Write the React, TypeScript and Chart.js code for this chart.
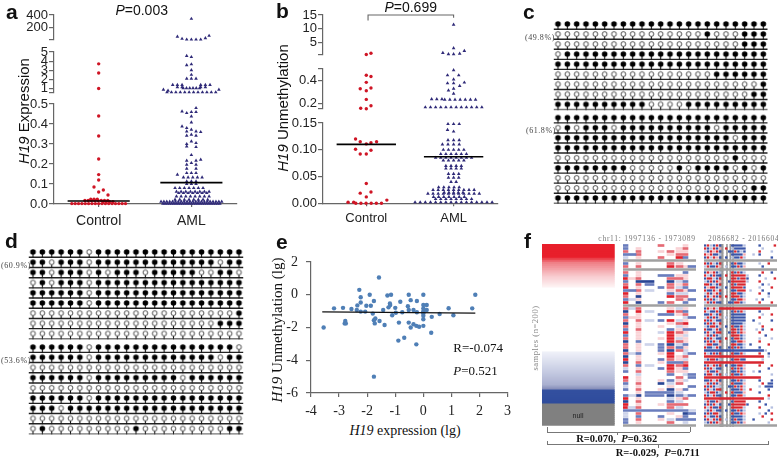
import React, { useEffect, useRef } from "react";
import { Chart, registerables } from "chart.js";
Chart.register(...registerables);

const SANS = "'Liberation Sans', Arial, sans-serif";
const SERIF = "'Liberation Serif', 'Times New Roman', serif";
const AXIS = "#666";
const RED = "#cf1525";
const NAVY = "#2f2a78";

// rows: [value, count, spread, shift] – swarm rows
type Row = [number, number, number?, number?];
const categories = ["Control", "AML"];

const aTopTicks = [11, 200, 400];
const aMidTicks = [0.5, 1, 2, 3, 4, 5];
const aLowTicks = [0, 0.1, 0.2, 0.3, 0.4, 0.5];
const aControlTop: Row[] = [];
const aControlMid: Row[] = [[3.7, 1], [2.7, 1], [1, 1]];
const aControlLow: Row[] = [[0.44, 1], [0.34, 1], [0.225, 1], [0.147, 1], [0.12, 1], [0.085, 1, 1, -1], [0.07, 1, 1, 1], [0.06, 1], [0.045, 1, 1, 2], [0.024, 3, 0.7, -1], [0.018, 8, 0.7, -0.5], [0.012, 4, 0.7, 2], [0.002, 17, 0.72]];
const aAmlTop: Row[] = [[340, 1], [58, 1, 1, -3], [26, 1, 1, -2], [73, 1, 1, 3.8], [35, 1, 1, 3], [13, 4, 1, 0.5]];
const aAmlMid: Row[] = [[4.57, 1, 1, -1], [4.45, 1], [3.65, 1], [3.55, 1, 1, -1], [3, 1], [2.5, 1], [2.07, 3], [1.39, 3, 1, -3], [1.39, 3, 1, 3], [1.15, 2, 1, -2.5], [1.15, 2, 1, 2.5], [1.03, 6, 0.7], [0.87, 1, 1, -6], [0.87, 1, 1, 5.9], [0.75, 1, 1, -5], [0.58, 12, 0.95]];
const aAmlLow: Row[] = [[0.48, 1, 1, 1], [0.463, 1, 1, -2], [0.46, 2, 1, 0.5], [0.455, 1, 1, -1], [0.438, 1], [0.408, 1], [0.388, 1, 1, -2], [0.38, 1, 1, -1], [0.372, 1], [0.363, 2, 2], [0.36, 1, 1, 2], [0.342, 2, 2], [0.347, 1], [0.313, 1], [0.3, 1, 1, -1], [0.305, 1, 1, 1], [0.285, 1, 1, 1], [0.288, 1, 1, -1], [0.245, 1], [0.222, 1, 1, 2], [0.217, 2, 2], [0.205, 1], [0.197, 2, 2], [0.177, 2, 2], [0.155, 3], [0.147, 1, 1, -3], [0.133, 5, 1, 0.3], [0.113, 3], [0.1, 3], [0.08, 7, 1, -0.5], [0.062, 8, 1, 0.3], [0.055, 7, 1, 0.3], [0.038, 8, 1, 0.3], [0.022, 8, 1], [0.012, 22, 0.62], [0.002, 27, 0.47]];
const aMeans = [0.015, 0.107];

const bTopTicks = [0.66, 5, 10, 15];
const bMidTicks = [0.155, 0.2, 0.4, 0.5];
const bLowTicks = [0, 0.05, 0.1, 0.15];
const bControlTop: Row[] = [[1.14, 1, 1, 1], [0.7, 1]];
const bControlMid: Row[] = [[0.446, 1], [0.435, 1, 1, 1], [0.385, 1], [0.33, 1, 1, -1.3], [0.336, 1, 1, 1], [0.313, 1], [0.238, 1], [0.183, 1, 1, 1], [0.162, 1, 1, -1.2], [0.157, 1]];
const bControlLow: Row[] = [[0.12, 1, 1, -2.3], [0.115, 1, 1, -1.3], [0.111, 1], [0.113, 1, 1, 1], [0.115, 1, 1, 2.2], [0.101, 1, 1, -2.3], [0.092, 2, 1.3, -0.65], [0.099, 1, 1, 1], [0.037, 1], [0.019, 1, 1, -1.3], [0.021, 1, 1, 1], [0.012, 1], [0.002, 2, 1.2, -3.3], [0, 6, 1.1, 0.5], [0.006, 1, 1, 4.4]];
const bAmlTop: Row[] = [[11.5, 1], [3, 1], [1.98, 1, 1, 2.3], [1.26, 1, 1, -2.3], [0.8, 2, 1.1, -0.55], [1, 1, 1, 1.3]];
const bAmlMid: Row[] = [[0.49, 1], [0.446, 2, 2.4, -0.1], [0.41, 1], [0.383, 1, 1, 2.3], [0.377, 2, 1.3, -0.65], [0.354, 1, 1, 1.3], [0.316, 1, 1, -1.1], [0.33, 1], [0.287, 1], [0.24, 3, 1.1, -3.6], [0.235, 7, 1.1, 1.4], [0.17, 12, 1.1]];
const bAmlLow: Row[] = [[0.148, 3, 1.2], [0.137, 1, 1, -1.3], [0.134, 1], [0.118, 3, 1.2], [0.11, 4, 1.2, -0.6], [0.1, 5, 1.1], [0.092, 6, 1.1], [0.085, 8, 1.1], [0.08, 5, 1.1], [0.07, 4, 1.1], [0.065, 4, 1.1], [0.055, 3, 1.1], [0.048, 3, 1.1], [0.04, 2, 1.1], [0.03, 5, 1.1, -1], [0.025, 9, 1.1], [0.02, 5, 1], [0.018, 11, 1.1], [0.012, 7, 1.1, -1], [0.008, 8, 1.1], [0.002, 16, 1.1]];
const bMeans = [0.11, 0.087];
const bBracketX = [1.02, 1.02, 2, 2];
const bBracketY = [13, 15, 15, 14];

// c, d: 1 = methylated (filled), 0 = unmethylated (open)
const cRows = [
  "11111111111111111111111", "00000000000000001000111", "00000000000000000000111", "01111111111111111111111", "11111111111111111111111", "00000000000000000111111", "00000000000000000000001", "00000000000000000000011", "11111111110000111111111",
  "11111111111111111111111", "01011101111111111011111", "11111111111111111110111", "11111111111111111111111", "00000000000000000001000", "11111111000001011110101", "00000000000000000000000", "00000000000000000000011", "11111111111111111111111",
];
const dRows = [
  "11111101111111111111111", "11011101111111111111011", "11011101011101111100110", "01011101111111111111111", "11111101111111111111111", "11111101111111111111111", "00000000000000000000001", "00000000000000000000111", "00000000000000000000000",
  "11111101111111111111110", "11111101111111111111011", "00000000000000000000000", "11111101111111110111111", "00000000000000000000000", "11111101111111111111111", "11101111111111111111111", "00000000000000000000000", "01000000000100000000011",
];

const ePoints = [
  [-3.55, -2], [-3.18, -0.83], [-2.86, -0.8], [-2.56, -0.87], [-2.78, -1.6], [-2.8, -1.75], [-2.76, -1.75], [-2.37, -0.93], [-2.35, -0.65], [-2.28, 0.3], [-2.23, -0.15], [-2.23, -0.47], [-2.23, -1.03], [-2.07, -1.03], [-2.03, -0.67], [-1.87, -0.67], [-1.91, 0], [-1.76, -0.38], [-1.8, -1.15], [-1.76, -1.55], [-1.71, -1.45], [-1.73, -1.75], [-1.76, -5], [-1.58, 1.05], [-1.56, -1.6], [-1.43, -0.93], [-1.38, -1.85], [-1.28, -0.05], [-1.15, 0], [-1.24, -0.77], [-1.18, -0.63], [-1.19, -0.53], [-1.11, -1.25], [-1, -0.8], [-0.98, -1.1], [-0.82, -0.43], [-0.87, -1.7], [-0.89, -2.8], [-0.75, -1.07], [-0.68, -2.63], [-0.52, 0], [-0.55, -0.7], [-0.52, -0.93], [-0.52, -1.7], [-0.45, -2], [-0.45, -0.33], [-0.35, -1.8], [-0.35, -0.93], [-0.25, -1.9], [-0.25, -3.03], [-0.23, -0.38], [-0.23, -1.07], [-0.15, -1.95], [0, 0], [0, -0.63], [0, -0.83], [0, -1], [0, -1.13], [0, -1.28], [0, -1.5], [0, -1.9], [0.12, -0.63], [0.12, -0.93], [0.3, -1.35], [0.28, -2.32], [0.58, -1.18], [0.9, -0.82], [1.07, -1.25], [1.74, -0.83], [1.85, 0],
];
const eFitX = [-3.6, 1.85];
const eFitY = [-1.05, -1.12];

// f: sample bands and two methylation tables, one text row per sample group
const fBandStops: [number, string][] = [
  [0, "#e81f2b"], [6, "#e81f2b"], [9, "#ef7f86"], [16, "#f8ccd0"], [21, "#fdf1f2"], [22, "#ffffff"], [53, "#ffffff"], [54, "#eef0f8"], [62, "#ccd1e6"], [70, "#aab0d0"], [72, "#8a91bb"], [73, "#33509f"], [79, "#2f4c9c"], [80, "#808080"], [91, "#808080"],
];
const fMidStart = [0, 5, 13, 22, 35, 44, 53, 60, 65];
const fMidEnd = [5, 13, 18, 31, 41, 51, 60, 65, 73];
const fMid = [
  "b...r..p.", "b.p...pr.", "r.r.prpp.", "bbr..prr.", "l.p.r.Rb.", "ggggggggg", "b.p..rp..", "r.r..Rrpb", "ggggggggg", "r.p....b.",
  "b.p.bbpp.", "Rpr..rrp.", "b.BB.Blb.", "r.rb.rpr.", "R.p.brlb.", "bbrl.prpb", "R.p..bll.", "r.B..Rrr.", "blp...rpb", "R.B.br.b.",
  "ggggggggg", "rlr..plp.", "B.Rl.Rrb.", "r.p.bbpr.", "bpp....lb", "r.rlbRlp.", "B.p..prR.", "r.p.p.lp.", "b.r..bpbb", "R.p.lRrp.",
  "b.p..Rpl.", "r.p.pRlp.", "B.b..Rrp.", "r.plbBlb.", "r.p.brbp.", "B.p.bBrl.", "rlb.pR.lb", "B.p..Rpr.", "R.p.brpl.", "B.r.pbbr.",
  "r.bl.RrR.", "l.p.bRpb.", "b.r..rpp.", "..l..b.lb", "R.p...r.b", "r.p.pbpl.", "b.r.Blr..", "l.p..p..b", "b.r.pBpb.", "..pbbbl..",
  "blBbbBblb", "R.p..lpr.", "B.r..bl..", "R.p.prrr.", "Rlr..rl..", "bbbbbbbbl", "l.r..p.Bb", "l.b.b.pb.", "b.r.plbbb", "b.p..r.l.", "ggggggggg",
];
const fRight = [
  "brlbrb...bbbbl....b....r", "rblrbp.r.lbbbb.....l....", "lbrprb..bbrblb....r...l.", "rprbbl...bbbbp..l.b.....", "brlrpb.b.lbbrl........b.", "gggggggggggggggggggggggg",
  "rbrlbr...brbbl....l..r..", "lrbbrp.l.bbrbp.....b....", "gggggggggggggggggggggggg", "brprbl...rbrbl.....r..b.",
  "rlbrbb.r.rrrrrl...b.....", "brrlbr...rrbrrb.....l..r", "lbrbrp..brrrrrl...r.....", "rrblbr...rbrrr.....b.l..", "bprrbl.b.rrrrb....l...r.",
  "rbbrlr...bbrrr.l...b....", "lrbprb...rrbbl....r..b..", "brlrbr.r.rrrbl.......l..", "rbrblp...bbrrp...l.b....", "lrbrbb..bbrrbl....r...r.",
  "gggggggggggggggggggggggg", "brprlrrrrrrrrrrrrrrrrr..", "rlbbrb...brbrl....b.....", "bbrlbr...bbbbb.....l..r.", "lrbrbp.l.bbbbb....r.....", "rbrlbb...bbbbb..b.....b.", "brbrlr...bbbbl....l.....", "lbrrbp.b.rbbrl.....r....",
  "rbblrb...rrbrl...l.b..r.", "brlbrr..brrbrp....r.....", "lrbrbl...rrrbl......b...", "rbrlbb.r.brrbl....l...l.", "brbrlr...bbrrp....r.....", "lrrbbp...rrbbl.b.....r..", "rbblrb..brbrbl....b.....",
  "bbbbbbbbbbbbbbbbbbbbl...", "rlbrbr...rbbrl....r..b..", "rrrrrrrrrrrrrrrrrrrr.l..", "lbrrbl...brrbb.....l....", "rrrrrrrrrrrrrrrrrrrr....", "brlrbr.b.bbrrl....r...r.",
  "rbrlbb...rbrbp.......b..", "lrbbrl...bbrbl..l.b.....", "brrlbr.l.rbbrl........l.", "rrrrrrrrrrrrrrrrrrr.....", "bbrlrb...bbrbl....b...b.", "lrbrbp...rbbbp.....r.bb.", "rbrbll..bbrbrl....l.bbb.",
  "brlbrr...bbbrl.r.....b..", "lbrrbl.r.rbbbp....b.....", "rblrbb...bbrrl.......r..", "rrrrrrrrrrrrrrrrrrrr.l..", "lrbbrp...brrrr....b.....", "brbrlb..brrrrrb.....b...", "rlrbbr...rrrrl....r...l.",
  "lbrlbb.b.bbrbl.......b..", "brbrrl...rbbrp....l.b.r.", "rlbbrb...bbbbl.....r....", "brlrbr.l.brbbl..b.....r.", "lbrbrp...bbrbp.......l..", "gggggggggggggggggggggggg",
];
const fRightStripes = [[5.2, 6.3], [7.4, 7.7], [8.5, 8.8], [9.4, 9.7]];
const fMidColors: Record<string, string> = { R: "#e0202c", r: "#e56a74", p: "#f9d2d5", B: "#2a4594", b: "#6a7dbd", l: "#cdd3ea", g: "#a0a0a0" };
const fRightColors: Record<string, string> = { r: "#d8262f", p: "#f3a9b0", b: "#3a55a8", l: "#b5bfe0", g: "#a0a0a0" };

function swarm(rows: Row[], center: number, unit: number) {
  const pts: { x: number; y: number }[] = [];
  for (const [value, count, spread = 1, shift = 0] of rows) {
    for (let i = 0; i < count; i++) {
      pts.push({ x: center + (shift + (i - (count - 1) / 2) * spread) * unit, y: value });
    }
  }
  return pts;
}

function yAxis(min: number, max: number, ticks: number[], label: (v: number) => string, font: any = { family: SANS, size: 13 }, padding = 1) {
  return {
    type: "linear", min, max,
    afterBuildTicks: (s: any) => { s.ticks = ticks.map((value) => ({ value })); },
    ticks: { callback: (v: number) => label(v), font, color: "#222", padding, autoSkip: false, maxRotation: 0 },
    grid: { drawOnChartArea: false, tickLength: 5, color: AXIS, lineWidth: 1.2 },
    border: { color: AXIS, width: 1.2 },
  };
}

function xAxis(min: number, max: number, ticks: number[], label: (v: number) => string, show: boolean, font: any = { family: SANS, size: 14 }, tickLength = 3, padding = 6) {
  return {
    type: "linear", min, max, display: show,
    afterBuildTicks: (s: any) => { s.ticks = ticks.map((value) => ({ value })); },
    ticks: { callback: (v: number) => label(v), font, color: "#222", padding, autoSkip: false, maxRotation: 0 },
    grid: { drawOnChartArea: false, tickLength, color: AXIS, lineWidth: 1.2 },
    border: { color: AXIS, width: 1.2 },
  };
}

const catLabel = (v: number) => categories[v - 1] ?? "";
const baseOptions = { responsive: false, animation: false, plugins: { legend: { display: false }, tooltip: { enabled: false } } };

function Plot({ area, margin, config }: { area: number[]; margin: number[]; config: () => any }) {
  const ref = useRef<HTMLCanvasElement>(null);
  const [l, t, r, b] = area;
  const [ml, mt, mr, mb] = margin;
  const w = Math.round(r - l + ml + mr);
  const h = Math.round(b - t + mt + mb);
  useEffect(() => {
    const cfg = config();
    const padding = { left: ml, top: mt, right: w - ml - (r - l), bottom: h - mt - (b - t) };
    const sc = cfg.options.scales;
    if (sc.y.display !== false) {
      const size = padding.left;
      padding.left = 0;
      sc.y.afterFit = (s: any) => { s.width = size; s.paddingTop = 0; s.paddingBottom = 0; };
    }
    if (sc.x.display !== false) {
      const size = padding.bottom;
      padding.bottom = 0;
      sc.x.afterFit = (s: any) => { s.height = size; s.paddingLeft = 0; s.paddingRight = 0; };
    }
    cfg.options = { ...baseOptions, ...cfg.options, layout: { padding } };
    const chart = new Chart(ref.current!, cfg);
    return () => chart.destroy();
  }, []);
  return <canvas ref={ref} width={w} height={h} style={{ position: "absolute", left: l - ml, top: t - mt, width: w, height: h }} />;
}

function swarmConfig(ctrl: Row[], aml: Row[], unit: number, y: any, x: any, extra: any[] = []) {
  return () => ({
    type: "scatter",
    data: {
      datasets: [
        ...extra,
        { label: "Control", data: swarm(ctrl, 1, unit), pointStyle: "circle", pointRadius: 1.7, backgroundColor: RED, borderWidth: 0, clip: false },
        { label: "AML", data: swarm(aml, 2, unit), pointStyle: "triangle", pointRadius: 2.1, backgroundColor: NAVY, borderColor: NAVY, borderWidth: 0, clip: false },
      ],
    },
    options: { scales: { x, y } },
  });
}

function meanLines(means: number[], half: number) {
  return means.map((m, i) => ({
    label: "mean", data: [{ x: i + 1 - half, y: m }, { x: i + 1 + half, y: m }], showLine: true, pointRadius: 0, borderColor: "#000", borderWidth: 1.6, clip: false,
  }));
}

function lollipop(filled: boolean) {
  const c = document.createElement("canvas");
  c.width = 9; c.height = 14;
  const g = c.getContext("2d")!;
  g.strokeStyle = "#111"; g.lineWidth = 1.1;
  g.beginPath(); g.moveTo(4.5, 7); g.lineTo(4.5, 12.5); g.stroke();
  g.beginPath(); g.arc(4.5, 7, filled ? 2.8 : 2.4, 0, Math.PI * 2);
  g.fillStyle = filled ? "#000" : "#fff"; g.fill();
  if (!filled) { g.lineWidth = 0.85; g.strokeStyle = "#333"; g.stroke(); }
  return c;
}

function methylConfig(rows: string[]) {
  return () => {
    const ys = rows.map((_, i) => (i < 9 ? i : i + 0.33));
    const base = rows.map((_, i) => ({
      label: "CpG line", data: [{ x: 0.55, y: ys[i] + 0.52 }, { x: 23.45, y: ys[i] + 0.52 }], showLine: true, pointRadius: 0, borderColor: i === 8 || i === 17 ? "#777" : "#222", borderWidth: 1.4, clip: false,
    }));
    const pick = (ch: string) => rows.flatMap((row, i) => row.split("").flatMap((c, j) => (c === ch ? [{ x: j + 1, y: ys[i] }] : [])));
    return {
      type: "scatter",
      data: {
        datasets: [
          { label: "methylated", data: pick("1"), pointStyle: lollipop(true), pointRadius: 3, clip: false },
          { label: "unmethylated", data: pick("0"), pointStyle: lollipop(false), pointRadius: 3, clip: false },
          ...base,
        ],
      },
      options: {
        scales: {
          x: { type: "linear", min: 1, max: 23, display: false },
          y: { type: "linear", min: 0, max: 17.33, reverse: true, display: false },
        },
      },
    };
  };
}

function hexMix(a: string, b: string, t: number) {
  const p = (s: string, i: number) => parseInt(s.substr(1 + i * 2, 2), 16);
  const out = [0, 1, 2].map((i) => Math.round(p(a, i) + (p(b, i) - p(a, i)) * t));
  return `rgb(${out.join(",")})`;
}

function bandConfig() {
  const n = fBandStops[fBandStops.length - 1][0];
  const labels: string[] = [];
  const colors: string[] = [];
  for (let i = 0; i < n; i++) {
    let k = 0;
    while (k < fBandStops.length - 2 && fBandStops[k + 1][0] <= i) k++;
    const [p0, c0] = fBandStops[k];
    const [p1, c1] = fBandStops[k + 1];
    labels.push(String(i));
    colors.push(hexMix(c0, c1, (i - p0) / (p1 - p0)));
  }
  return {
    type: "bar",
    data: { labels, datasets: [{ label: "expression", data: labels.map((y) => ({ x: [0, 1], y })), backgroundColor: colors, barPercentage: 1, categoryPercentage: 1, borderWidth: 0 }] },
    options: {
      indexAxis: "y",
      scales: { x: { type: "linear", min: 0, max: 1, display: false }, y: { type: "category", display: false } },
    },
  };
}

function tableConfig(table: string[], colors: Record<string, string>, start: (j: number) => number, end: (j: number) => number, max: number, stripes: number[][] = [], thick = 2) {
  return () => {
    const labels = table.map((_, i) => String(i));
    const byCode: Record<string, any[]> = {};
    table.forEach((row, i) => {
      if (/^g+$/.test(row)) {
        (byCode.g = byCode.g || []).push({ x: [0, max], y: String(i) });
        return;
      }
      for (let j = 0; j < row.length; j++) {
        const c = row[j];
        if (c === ".") continue;
        let e = j;
        while (row[e + 1] === c) e++;
        (byCode[c] = byCode[c] || []).push({ x: [start(j), end(e)], y: String(i) });
        j = e;
      }
    });
    const datasets: any[] = Object.keys(byCode).map((c) => ({
      label: c, data: byCode[c], backgroundColor: colors[c], grouped: false, barThickness: c === "g" ? 1.7 : thick, borderWidth: 0,
    }));
    stripes.forEach((s) => datasets.push({ label: "stripe", data: labels.map((y) => ({ x: s, y })), backgroundColor: "#9a9a9a", grouped: false, barThickness: 3.2, borderWidth: 0 }));
    return {
      type: "bar",
      data: { labels, datasets },
      options: {
        indexAxis: "y",
        scales: { x: { type: "linear", min: 0, max, display: false }, y: { type: "category", display: false } },
      },
    };
  };
}

function T({ x, y, a = "l", rot = 0, style, children }: any) {
  const tx = a === "c" ? "-50%" : a === "r" ? "-100%" : "0";
  return (
    <div style={{ position: "absolute", left: x, top: y, lineHeight: 1, whiteSpace: "pre", color: "#111", transform: `translate(${tx},-50%) rotate(${rot}deg)`, ...style }}>{children}</div>
  );
}

function Line({ x, y, w, h, c = "#777" }: any) {
  return <div style={{ position: "absolute", left: x, top: y, width: w, height: h, background: c }} />;
}

const letter = { fontFamily: SANS, fontWeight: 700, fontSize: 21 };
const tiny = { fontFamily: SERIF, fontSize: 8, letterSpacing: 0.55, color: "#444" };

export default function App() {
  const aX = (show: boolean) => xAxis(0.518, 2.489, [1, 2], catLabel, show);
  const bX = (show: boolean) => xAxis(0.504, 2.504, [1, 2], catLabel, show, { family: SANS, size: 13 }, 3, 4);
  const eFont = { family: SERIF, size: 14 };
  return (
    <div style={{ position: "fixed", left: 0, top: 0, width: 778, height: 458, background: "#fff", overflow: "hidden" }}>
      {/* a */}
      <Plot area={[54.3, 15.3, 237, 40]} margin={[54, 8, 10, 4]} config={swarmConfig(aControlTop, aAmlTop, 0.0503, yAxis(11, 400, aTopTicks, (v) => (v === 11 ? "" : String(v))), aX(false))} />
      <Plot area={[54.3, 51.7, 237, 93]} margin={[54, 6, 10, 4]} config={swarmConfig(aControlMid, aAmlMid, 0.0503, yAxis(0.5, 5, aMidTicks, (v) => (v === 0.5 ? "" : String(v))), aX(false))} />
      <Plot area={[54.3, 104.3, 237, 204.3]} margin={[54, 8, 10, 28]} config={swarmConfig(aControlLow, aAmlLow, 0.0503, yAxis(0, 0.5, aLowTicks, (v) => v.toFixed(1)), aX(true), meanLines(aMeans, 0.335))} />
      {/* b */}
      <Plot area={[322.7, 14.7, 497.3, 54.3]} margin={[46, 8, 10, 4]} config={swarmConfig(bControlTop, bAmlTop, 0.0535, yAxis(0.66, 15, bTopTicks, (v) => (v === 0.66 ? "" : String(v))), bX(false), [{ label: "bracket", data: bBracketX.map((x, i) => ({ x, y: bBracketY[i] })), showLine: true, pointRadius: 0, borderColor: "#666", borderWidth: 1.1, clip: false }])} />
      <Plot area={[322.7, 68.7, 497.3, 108.7]} margin={[46, 6, 10, 4]} config={swarmConfig(bControlMid, bAmlMid, 0.0535, yAxis(0.155, 0.5, bMidTicks, (v) => (v === 0.2 || v === 0.4 ? v.toFixed(1) : "")), bX(false))} />
      <Plot area={[322.7, 122.7, 497.3, 203]} margin={[46, 8, 10, 28]} config={swarmConfig(bControlLow, bAmlLow, 0.0535, yAxis(0, 0.15, bLowTicks, (v) => v.toFixed(2)), bX(true), meanLines(bMeans, 0.34))} />
      {/* c, d */}
      <Plot area={[558, 24, 763.3, 198]} margin={[8, 8, 8, 10]} config={methylConfig(cRows)} />
      <Plot area={[33, 251.7, 239, 428.3]} margin={[8, 8, 8, 10]} config={methylConfig(dRows)} />
      {/* e */}
      <Plot
        area={[310.7, 262.3, 507.3, 393.3]}
        margin={[30, 10, 10, 28]}
        config={() => ({
          type: "scatter",
          data: {
            datasets: [
              { label: "fit", data: eFitX.map((x, i) => ({ x, y: eFitY[i] })), showLine: true, pointRadius: 0, borderColor: "#111", borderWidth: 1.2 },
              { label: "samples", data: ePoints.map(([x, y]) => ({ x, y })), pointRadius: 2.2, backgroundColor: "#4f7fb6", borderWidth: 0, clip: false },
            ],
          },
          options: {
            scales: {
              x: xAxis(-4, 3, [-4, -3, -2, -1, 0, 1, 2, 3], (v) => String(v), true, eFont, 4, 6),
              y: yAxis(-6, 2, [-6, -4, -2, 0, 2], (v) => String(v), eFont, 8),
            },
          },
        })}
      />
      {/* f */}
      <Plot area={[542, 244, 614.7, 425.7]} margin={[2, 2, 2, 2]} config={bandConfig} />
      <Plot area={[623, 244, 696, 427]} margin={[2, 2, 2, 2]} config={tableConfig(fMid, fMidColors, (j) => fMidStart[j], (j) => fMidEnd[j], 73)} />
      <Plot area={[704, 244, 777, 427]} margin={[1, 2, 1, 2]} config={tableConfig(fRight, fRightColors, (j) => j, (j) => j + 0.6, 24, fRightStripes, 1.6)} />

      {/* text */}
      <T x={6} y={11} style={letter}>a</T>
      <T x={276} y={10} style={letter}>b</T>
      <T x={523} y={11} style={letter}>c</T>
      <T x={5} y={240} style={letter}>d</T>
      <T x={276} y={241} style={letter}>e</T>
      <T x={524} y={240} style={letter}>f</T>

      <T x={141.7} y={9.5} a="c" style={{ fontFamily: SANS, fontSize: 14 }}><i>P</i>=0.003</T>
      <T x={410.7} y={6.7} a="c" style={{ fontFamily: SANS, fontSize: 14 }}><i>P</i>=0.699</T>
      <T x={22.7} y={110.7} a="c" rot={-90} style={{ fontFamily: SANS, fontSize: 15 }}><i>H19</i> Expression</T>
      <T x={282.3} y={108} a="c" rot={-90} style={{ fontFamily: SANS, fontSize: 15 }}><i>H19</i> Unmethylation</T>

      <T x={525} y={38.3} style={tiny}>(49.8%)</T>
      <T x={526} y={130.7} style={tiny}>(61.8%)</T>
      <T x={1} y={265.7} style={tiny}>(60.9%)</T>
      <T x={1} y={361} style={tiny}>(53.6%)</T>

      <T x={277.3} y={330} a="c" rot={-90} style={{ fontFamily: SERIF, fontSize: 15 }}><i>H19</i> Unmethylation (lg)</T>
      <T x={405} y={430.7} a="c" style={{ fontFamily: SERIF, fontSize: 14 }}><i>H19</i> expression (lg)</T>
      <T x={453.3} y={347} style={{ fontFamily: SERIF, fontSize: 13 }}>R=-0.074</T>
      <T x={453.3} y={370} style={{ fontFamily: SERIF, fontSize: 13 }}><i>P</i>=0.521</T>

      <T x={578} y={414.5} a="c" style={{ fontFamily: SANS, fontSize: 7, color: "#222" }}>null</T>
      <T x={598.3} y={239} style={{ ...tiny, fontSize: 7.5, letterSpacing: 0.75, color: "#777" }}>chr11: 1997136 - 1973089</T>
      <T x={708} y={239} style={{ ...tiny, fontSize: 7.5, letterSpacing: 0.75, color: "#777" }}>2086682 - 2016604</T>
      <T x={535} y={338} a="c" rot={-90} style={{ ...tiny, fontSize: 8.5, color: "#888" }}>samples (n=200)</T>

      <Line x={546.7} y={431.5} w={143.5} h={1} />
      <Line x={546.7} y={427} w={1} h={5} />
      <Line x={690} y={427} w={1} h={5} />
      <Line x={616.7} y={431.5} w={1} h={3} />
      <Line x={546.7} y={444} w={221.6} h={1} />
      <Line x={546.7} y={441} w={1} h={4} />
      <Line x={768} y={441} w={1} h={4} />
      <Line x={657.7} y={444} w={1} h={3.5} />
      <T x={616.7} y={439} a="c" style={{ fontFamily: SERIF, fontSize: 10.5, fontWeight: 700 }}>R=0.070,  <i>P</i>=0.362</T>
      <T x={657.7} y={453} a="c" style={{ fontFamily: SERIF, fontSize: 10.5, fontWeight: 700 }}>R=-0.029,  <i>P</i>=0.711</T>
    </div>
  );
}
